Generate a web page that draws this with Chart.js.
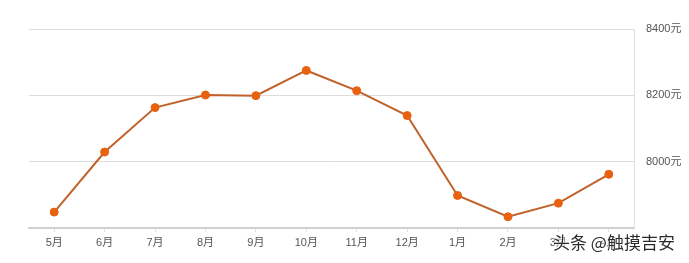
<!DOCTYPE html>
<html>
<head>
<meta charset="utf-8">
<script src="https://cdn.jsdelivr.net/npm/chart.js@4"></script>
<style>
  html, body { margin: 0; padding: 0; background: #fff; }
  #wrap { position: relative; width: 689px; height: 263px; }
  #mark {
    position: absolute; left: 553px; top: 230px;
    font: 17px "Noto Sans CJK SC", sans-serif; color: #2a2a2a; line-height: 24px;
    text-shadow: 0 0 2px #fff, 0 0 2px #fff, 0 0 3px #fff; white-space: nowrap;
  }
</style>
</head>
<body>
<div id="wrap">
  <canvas id="chart" width="689" height="263"></canvas>
  <div id="mark">头条 @触摸吉安</div>
</div>
<script>
// months along the x-axis
const months = ['5月', '6月', '7月', '8月', '9月', '10月', '11月', '12月', '1月', '2月', '3月', '4月'];
// price per month
const prices = [7848, 8029, 8163, 8201, 8199, 8275, 8214, 8139, 7898, 7834, 7875, 7962];
// y-axis ticks shown with labels
const priceTicks = [8000, 8200, 8400];

const labelFont = { size: 11, family: '"Liberation Sans", "Noto Sans CJK SC", sans-serif' };

const ctx = document.getElementById('chart').getContext('2d');
const chart = new Chart(ctx, {
    type: 'line',
    data: {
        labels: months,
        datasets: [{
            data: prices,
            borderColor: '#c0622a',
            borderWidth: 2,
            pointBackgroundColor: '#e8610f',
            pointBorderColor: '#e8610f',
            pointRadius: 4,
            pointBorderWidth: 1,
            tension: 0,
            fill: false
        }]
    },
    options: {
        responsive: false,
        animation: false,
        layout: { padding: { left: 29, top: 29, right: 0, bottom: 0 } },
        plugins: { legend: { display: false }, tooltip: { enabled: false } },
        scales: {
            x: {
                offset: true,
                grid: { drawOnChartArea: false, tickLength: 4, color: '#e0e0e0' },
                border: { color: '#d0d0d0', width: 2 },
                ticks: { color: '#555', padding: 4, font: labelFont },
                afterFit: s => { s.height = 35; }
            },
            y: {
                position: 'right',
                min: 7800,
                max: 8400,
                grid: { color: '#dcdcdc', drawTicks: false },
                border: { display: true, color: '#e0e0e0', width: 1 },
                ticks: {
                    stepSize: 200,
                    padding: 12,
                    color: '#555',
                    font: labelFont,
                    callback: v => priceTicks.includes(v) ? v + '元' : ''
                },
                afterFit: s => { s.width = 55; }
            }
        }
    }
});
</script>
</body>
</html>
